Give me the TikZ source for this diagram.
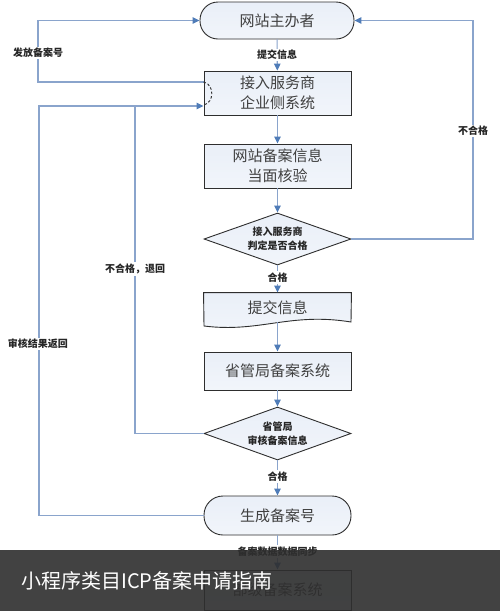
\documentclass[tikz,border=0pt]{standalone}
\usepackage{fontspec}
\setmainfont{Noto Sans CJK SC}
\usetikzlibrary{shapes.geometric,arrows.meta,calc}
\definecolor{linec}{HTML}{8AA4CC}
\definecolor{tipc}{HTML}{4F7CB8}
\definecolor{boxfill}{HTML}{E4EBF6}
\definecolor{boxline}{HTML}{2E2E2E}
\begin{document}
\begin{tikzpicture}[x=1pt,y=-1pt,
  conn/.style={draw=linec,line width=1.1pt},
  arr/.style={conn,-{Triangle[length=7pt,width=6.5pt,color=tipc]}},
  procbox/.style={rectangle,draw=boxline,line width=0.9pt,top color=boxfill!80,bottom color=boxfill!50!white,
    minimum width=147pt,inner sep=0pt,align=center,font=\fontsize{15}{20}\selectfont,text=black!75},
  termbox/.style={procbox,rounded corners=18pt},
  decbox/.style={diamond,draw=boxline,line width=0.9pt,top color=boxfill!80,bottom color=boxfill!50!white,
    minimum width=147pt,minimum height=52pt,aspect=2.8,inner sep=0pt,align=center,
    font=\fontsize{10}{14}\selectfont\bfseries,text=black!85},
  lbl/.style={fill=white,inner sep=1.5pt,font=\fontsize{10}{12}\selectfont\bfseries,text=black!85}
]
\useasboundingbox (0,0) rectangle (500,611);
\fill[white] (0,0) rectangle (500,611);

% nodes
\node[termbox,minimum width=154pt,minimum height=37pt] (t1) at (277,20.5) {网站主办者};
\node[procbox,minimum height=44pt] (b1) at (277.5,93) {接入服务商\\企业侧系统};
\node[procbox,minimum height=44pt] (b2) at (277.5,166) {网站备案信息\\当面核验};
\node[decbox] (d1) at (277.5,239) {接入服务商\\判定是否合格};
\node[procbox,draw=none,top color=white,bottom color=white,fill=none,minimum height=29pt] (doc) at (277.5,307.5) {};
\shade[top color=boxfill!80,bottom color=boxfill!50!white,draw=boxline,line width=0.9pt]
  (doc.north west) -- (doc.north east) -- (351,322)
  .. controls (290,312) and (260,333) .. (204,326) -- cycle;
\node[font=\fontsize{15}{20}\selectfont,text=black!75] at (doc.center) {提交信息};
\node[procbox,minimum height=38pt] (b4) at (277.5,371) {省管局备案系统};
\node[decbox,minimum height=53pt] (d2) at (277.5,433.5) {省管局\\审核备案信息};
\node[termbox,minimum height=39pt,rounded corners=19pt] (t2) at (277.5,515.5) {生成备案号};
\node[procbox,minimum height=40pt] (b5) at (277.5,590) {部级备案系统};

% coordinates
\coordinate (rc) at (473,20.5);
\coordinate (lu) at (38,20.5);
\coordinate (c135) at (135,106);
\coordinate (c39) at (39,106);

% main flow
\draw[arr] (t1) -- node[lbl]{提交信息} (b1);
\draw[arr] (b1) -- (b2);
\draw[arr] (b2) -- (d1);
\draw[arr] (d1) -- node[lbl,pos=0.45]{合格} (doc.north);
\draw[arr] (doc.south) -- (b4);
\draw[arr] (b4) -- (d2);
\draw[arr] (d2) -- node[lbl,pos=0.45]{合格} (t2);
\draw[arr] (t2) -- node[lbl,pos=0.48]{备案数据数据同步} (b5);

% feedback loops
\draw[arr] (d1.east) -| (rc) -- (t1.east);
\node[lbl] at (473,131) {不合格};
\draw[arr] ([yshift=11pt]b1.west) -| (lu) -- (t1.west);
\node[lbl] at (38,53) {发放备案号};
\draw[conn] (d2.west) -| (c135);
\draw[conn] (t2.west) -| (c39) -- (c135);
\draw[arr] (c135) -- ([yshift=-13pt]b1.west);
\node[lbl] at (135,269) {不合格，退回};
\node[lbl] at (38,344) {审核结果返回};
\draw[boxline,line width=0.9pt,dashed,dash pattern=on 2.5pt off 2pt]
  ([yshift=11pt]b1.west) .. controls +(11,2) and +(11,-2) .. ([yshift=-12pt]b1.west);

% overlay band
\fill[black!82,opacity=0.9] (0,550) rectangle (500,611);
\node[anchor=west,text=white,inner sep=0pt,font=\fontsize{20}{22}\selectfont] (title) at (21,581) {小程序类目ICP备案申请指南};
\end{tikzpicture}
\end{document}
